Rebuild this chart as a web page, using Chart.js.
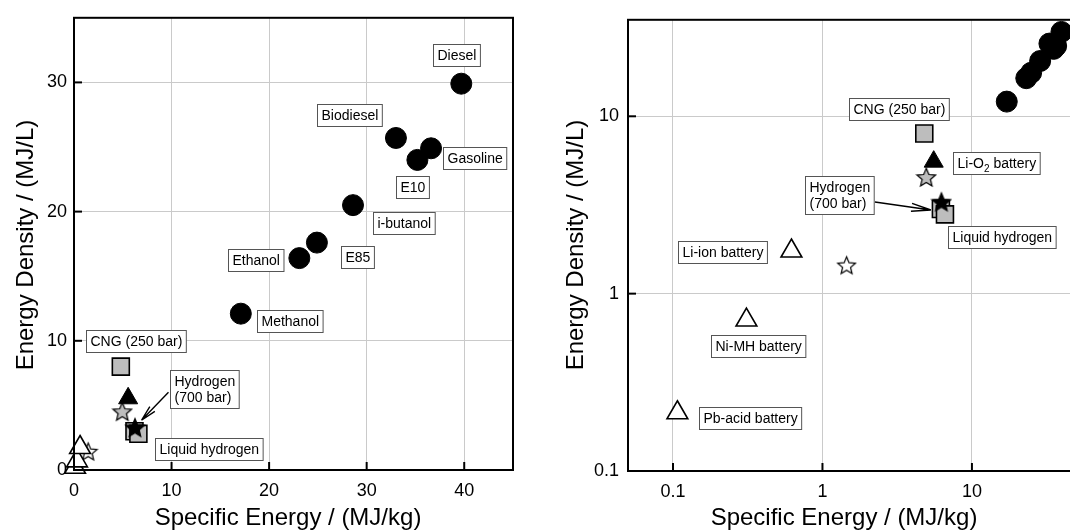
<!DOCTYPE html>
<html>
<head>
<meta charset="utf-8">
<script src="https://cdn.jsdelivr.net/npm/chart.js@4/dist/chart.umd.min.js"></script>
<style>
  html, body { margin: 0; padding: 0; background: #fff; overflow: hidden; width: 1070px; height: 532px; }
  #left  { position: absolute; left: 0;     top: 0; }
  #right { position: absolute; left: 535px; top: 0; }
</style>
</head>
<body>
<canvas id="left" width="535" height="532"></canvas>
<canvas id="right" width="600" height="532"></canvas>
<script>
// ── DATA ───────────────────────────────────────────────
const fuelNames    = ['Diesel', 'Biodiesel', 'Gasoline', 'E10', 'i-butanol', 'E85', 'Ethanol', 'Methanol'];
const fuelSpecific = [39.7, 33.0, 36.6, 35.2, 28.6, 24.9, 23.1, 17.1];
const fuelDensity  = [29.9, 25.7, 24.9, 24.0, 20.5, 17.6, 16.4, 12.1];

const gasNames    = ['CNG (250 bar)', 'Hydrogen\n(700 bar)', 'Liquid hydrogen'];
const gasSpecific = [4.8, 6.2, 6.6];
const gasDensity  = [8.0, 3.0, 2.8];

const batteryNames    = ['Pb-acid battery', 'Ni-MH battery', 'Li-ion battery'];
const batterySpecific = [0.107, 0.31, 0.62];
const batteryDensity  = [0.213, 0.71, 1.74];

const lio2Names    = ['Li-O₂ battery'];
const lio2Specific = [5.55];
const lio2Density  = [5.55];

const greyStarSpecific  = [4.95];
const greyStarDensity   = [4.55];
const blackStarSpecific = [6.25];
const blackStarDensity  = [3.3];
const whiteStarSpecific = [1.45];
const whiteStarDensity  = [1.45];

const linXTicks = [0, 10, 20, 30, 40];
const linYTicks = [0, 10, 20, 30];
const logXTicks = [0.1, 1, 10];
const logYTicks = [0.1, 1, 10];

const xTitle = 'Specific Energy / (MJ/kg)';
const yTitle = 'Energy Density / (MJ/L)';

// ── HELPERS ────────────────────────────────────────────
const FONT = "'Liberation Sans', Arial, Helvetica, sans-serif";
const pts = (xs, ys) => xs.map((x, i) => ({ x, y: ys[i] }));
const namesFor = { fuels: fuelNames, gas: gasNames, batteries: batteryNames, lio2: lio2Names };

function makeStar(size, fill, lw) {
  const c = document.createElement('canvas');
  c.width = c.height = size;
  const g = c.getContext('2d');
  const cx = size / 2, cy = size / 2 + size * 0.05;
  const R = size / 2 - lw, r = R * 0.45;
  g.beginPath();
  for (let k = 0; k < 10; k++) {
    const a = -Math.PI / 2 + k * Math.PI / 5;
    const rr = k % 2 ? r : R;
    g.lineTo(cx + rr * Math.cos(a), cy + rr * Math.sin(a));
  }
  g.closePath();
  g.fillStyle = fill; g.fill();
  g.lineWidth = lw; g.strokeStyle = '#000'; g.lineJoin = 'miter'; g.stroke();
  return c;
}
const starBlack = makeStar(22, '#000', 1.2);
const starGrey  = makeStar(22, '#bdbdbd', 1.2);
const starWhite = makeStar(21, '#fff', 1.2);

function makeDatasets() {
  const base = { clip: false, borderColor: '#000' };
  return [
    { ...base, label: 'blackStar', data: pts(blackStarSpecific, blackStarDensity), pointStyle: starBlack, order: 0 },
    { ...base, label: 'gas', data: pts(gasSpecific, gasDensity), pointStyle: 'rect', pointRadius: 12,
      backgroundColor: '#bdbdbd', borderWidth: 1.6, order: 1 },
    { ...base, label: 'greyStar', data: pts(greyStarSpecific, greyStarDensity), pointStyle: starGrey, order: 2 },
    { ...base, label: 'lio2', data: pts(lio2Specific, lio2Density), pointStyle: 'triangle', pointRadius: 11,
      backgroundColor: '#000', borderWidth: 1, order: 3 },
    { ...base, label: 'batteries', data: pts(batterySpecific, batteryDensity), pointStyle: 'triangle', pointRadius: 12,
      backgroundColor: '#fff', borderWidth: 1.6, order: 4 },
    { ...base, label: 'whiteStar', data: pts(whiteStarSpecific, whiteStarDensity), pointStyle: starWhite, order: 5 },
    { ...base, label: 'fuels', data: pts(fuelSpecific, fuelDensity), pointStyle: 'circle', pointRadius: 10.5,
      backgroundColor: '#000', borderWidth: 1, order: 6 }
  ];
}

// label boxes, arrows, inside ticks, frame and axis titles
const decor = {
  id: 'decor',
  afterDatasetsDraw(chart, args, opts) {
    const ctx = chart.ctx, a = chart.chartArea;
    ctx.save();
    // frame
    ctx.strokeStyle = '#000'; ctx.lineWidth = 2;
    ctx.strokeRect(a.left, a.top, a.right - a.left, a.bottom - a.top);
    // inside ticks
    chart.scales.x.ticks.forEach(t => {
      const px = chart.scales.x.getPixelForValue(t.value);
      ctx.beginPath(); ctx.moveTo(px, a.bottom); ctx.lineTo(px, a.bottom - 8); ctx.stroke();
    });
    chart.scales.y.ticks.forEach(t => {
      const py = chart.scales.y.getPixelForValue(t.value);
      ctx.beginPath(); ctx.moveTo(a.left, py); ctx.lineTo(a.left + 8, py); ctx.stroke();
    });

    const pointOf = (dsLabel, i) => {
      const idx = chart.data.datasets.findIndex(d => d.label === dsLabel);
      const el = chart.getDatasetMeta(idx).data[i];
      return { x: el.x, y: el.y };
    };

    // arrows
    ctx.lineWidth = 1.4; ctx.strokeStyle = '#000';
    (opts.arrows || []).forEach(ar => {
      const p = pointOf(ar.ds, ar.i);
      const x0 = p.x + ar.from[0], y0 = p.y + ar.from[1];
      const x1 = p.x + ar.to[0],   y1 = p.y + ar.to[1];
      const ang = Math.atan2(y1 - y0, x1 - x0);
      ctx.beginPath(); ctx.moveTo(x0, y0); ctx.lineTo(x1, y1);
      [-ar.spread, ar.spread].forEach(s => {
        ctx.moveTo(x1, y1);
        ctx.lineTo(x1 - ar.head * Math.cos(ang + s), y1 - ar.head * Math.sin(ang + s));
      });
      ctx.stroke();
    });

    // label boxes
    const fs = 14, lh = 16;
    ctx.textBaseline = 'middle';
    (opts.labels || []).forEach(lb => {
      const p = pointOf(lb.ds, lb.i);
      const text = namesFor[lb.ds][lb.i];
      const lines = text.split('\n');
      ctx.font = fs + 'px ' + FONT;
      const width = Math.max(...lines.map(l => measureRich(ctx, l)));
      const w = width + 8, h = lines.length * lh + 6;
      const cx = p.x + lb.dx, cy = p.y + lb.dy;
      const bx = Math.round(cx - w / 2) + 0.5, by = Math.round(cy - h / 2) + 0.5;
      ctx.fillStyle = '#fff'; ctx.fillRect(bx, by, w, h);
      ctx.strokeStyle = '#555'; ctx.lineWidth = 1; ctx.strokeRect(bx, by, w, h);
      ctx.fillStyle = '#000';
      lines.forEach((l, k) => drawRich(ctx, l, bx + 4, by + 3 + lh / 2 + k * lh + 1));
    });

    // axis titles
    ctx.fillStyle = '#000';
    ctx.font = '24px ' + FONT;
    ctx.textAlign = 'center'; ctx.textBaseline = 'alphabetic';
    ctx.fillText(xTitle, opts.xTitleAt[0], opts.xTitleAt[1]);
    ctx.translate(opts.yTitleAt[0], opts.yTitleAt[1]);
    ctx.rotate(-Math.PI / 2);
    ctx.fillText(yTitle, 0, 0);
    ctx.restore();
  }
};

function measureRich(ctx, s) {
  if (!s.includes('₂')) return ctx.measureText(s).width;
  const [a, b] = s.split('₂');
  const f = ctx.font;
  let w = ctx.measureText(a).width + ctx.measureText(b).width;
  ctx.font = '10px ' + FONT; w += ctx.measureText('2').width; ctx.font = f;
  return w;
}
function drawRich(ctx, s, x, y) {
  ctx.textAlign = 'left';
  if (!s.includes('₂')) { ctx.fillText(s, x, y); return; }
  const [a, b] = s.split('₂');
  const f = ctx.font;
  ctx.fillText(a, x, y); x += ctx.measureText(a).width;
  ctx.font = '10px ' + FONT; ctx.fillText('2', x, y + 5); x += ctx.measureText('2').width;
  ctx.font = f; ctx.fillText(b, x, y);
}

function axis(type, min, max, tickVals, isX, size, pad) {
  return {
    type, min, max,
    afterBuildTicks: s => { s.ticks = tickVals.map(v => ({ value: v })); },
    afterFit: s => { if (isX) s.height = size; else s.width = size; },
    grid: { color: '#cacaca', lineWidth: 1, drawTicks: false },
    border: { display: true, color: '#000', width: 2 },
    ticks: {
      color: '#000', padding: pad, font: { family: FONT, size: 18 },
      autoSkip: false, maxRotation: 0,
      callback: v => String(v)
    }
  };
}

Chart.defaults.font.family = FONT;
Chart.defaults.animation = false;

// ── LEFT: LINEAR ───────────────────────────────────────
new Chart(document.getElementById('left'), {
  type: 'scatter',
  data: { datasets: makeDatasets() },
  options: {
    responsive: false,
    layout: { padding: { top: 14, right: 22, left: 0, bottom: 0 } },
    plugins: {
      legend: { display: false }, tooltip: { enabled: false },
      decor: {
        xTitleAt: [288, 525], yTitleAt: [33, 245],
        labels: [
          { ds: 'fuels', i: 0, dx: -5,  dy: -29 },
          { ds: 'fuels', i: 1, dx: -47, dy: -23 },
          { ds: 'fuels', i: 2, dx: 44,  dy: 10 },
          { ds: 'fuels', i: 3, dx: -5,  dy: 27 },
          { ds: 'fuels', i: 4, dx: 51,  dy: 18 },
          { ds: 'fuels', i: 5, dx: 41,  dy: 14 },
          { ds: 'fuels', i: 6, dx: -44, dy: 2 },
          { ds: 'fuels', i: 7, dx: 49,  dy: 7 },
          { ds: 'gas', i: 0, dx: 15, dy: -26 },
          { ds: 'gas', i: 1, dx: 70, dy: -42 },
          { ds: 'gas', i: 2, dx: 70, dy: 15 }
        ],
        arrows: [ { ds: 'gas', i: 1, from: [34, -39], to: [7, -11], head: 16, spread: 0.22 } ]
      }
    },
    scales: {
      x: axis('linear', 0, 45, linXTicks, true, 62, 10),
      y: axis('linear', 0, 35, linYTicks, false, 74, 7)
    }
  },
  plugins: [decor]
});

// ── RIGHT: LOG-LOG ─────────────────────────────────────
new Chart(document.getElementById('right'), {
  type: 'scatter',
  data: { datasets: makeDatasets() },
  options: {
    responsive: false,
    layout: { padding: { top: 17, right: 9, left: 0, bottom: 0 } },
    plugins: {
      legend: { display: false }, tooltip: { enabled: false },
      decor: {
        xTitleAt: [309, 525], yTitleAt: [48, 245],
        labels: [
          { ds: 'gas', i: 0, dx: -25, dy: -24 },
          { ds: 'lio2', i: 0, dx: 63, dy: 1 },
          { ds: 'gas', i: 1, dx: -102, dy: -14 },
          { ds: 'gas', i: 2, dx: 57, dy: 23 },
          { ds: 'batteries', i: 2, dx: -69, dy: 1 },
          { ds: 'batteries', i: 1, dx: 12, dy: 26 },
          { ds: 'batteries', i: 0, dx: 73, dy: 5 }
        ],
        arrows: [ { ds: 'gas', i: 1, from: [-66, -7], to: [-10, 1], head: 20, spread: 0.2 } ]
      }
    },
    scales: {
      x: axis('logarithmic', 0.05, 100, logXTicks, true, 61, 10),
      y: axis('logarithmic', 0.1, 35, logYTicks, false, 93, 9)
    }
  },
  plugins: [decor]
});
</script>
</body>
</html>
